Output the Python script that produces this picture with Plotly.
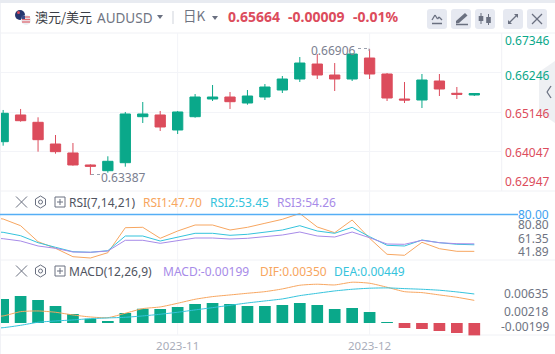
import numpy as np
import plotly.graph_objects as go

W, H = 555, 354
# ---------- data ----------
opens = [.64316,.65063,.64858,.64251,.64000,.63664,.63504,.63728,.65015,.65063,.64643,.65015,.65510,.65566,
         .65398,.65566,.65762,.66070,.66489,.66182,.66070,.66657,.66210,.65510,.65482,.66014,.65670,.65622]
highs = [.65203,.65231,.64998,.64503,.64279,.63683,.63907,.65147,.65426,.65175,.65175,.65650,.65902,.65706,
         .65762,.65930,.66154,.66685,.66769,.66517,.66783,.66906,.66238,.65986,.66210,.66210,.65846,.65678]
lows = [.64204,.64875,.64036,.63980,.63644,.63387,.63448,.63616,.64839,.64615,.64531,.64987,.65454,.65231,
        .65351,.65482,.65678,.65986,.66070,.65734,.66014,.66070,.65454,.65398,.65258,.65594,.65510,.65594]
closes = [.65110,.64903,.64372,.64036,.63664,.63627,.63767,.65091,.65091,.64727,.65147,.65566,.65566,.65435,
          .65594,.65846,.66070,.66517,.66182,.66070,.66769,.66210,.65538,.65482,.66042,.65790,.65642,.65664]
rsi1 = [78.0,75.98,70.13,56.15,50.37,43.03,41.89,46.52,68.38,68.73,59.11,65.49,70.74,70.74,66.37,68.73,72.23,
        75.72,80.80,69.00,64.01,75.12,59.11,45.12,44.25,55.62,50.02,47.75,47.70]
rsi2 = [65.2,64.35,61.39,55.27,51.24,47.40,46.87,48.27,61.12,61.12,56.75,60.25,63.48,63.48,61.74,62.61,64.62,
        66.37,70.13,65.49,63.48,68.73,60.50,52.99,52.39,57.62,55.27,53.86,53.45]
rsi3 = [59.5,58.76,56.75,52.39,50.37,47.13,46.87,48.01,57.37,57.37,54.74,57.02,59.38,59.38,58.50,59.11,60.50,
        61.99,64.62,61.12,60.25,64.62,59.63,54.13,53.86,57.37,55.27,54.40,54.26]
macd = [.00372,.00419,.00357,.00264,.00140,.00067,.00016,.00155,.00222,.00217,.00248,.00295,.00310,.00295,
        .00264,.00264,.00279,.00310,.00279,.00217,.00233,.00171,.00011,-.00078,-.00093,-.00124,-.00155,-.00199]
dif = [.00093,.00109,.00175,.00186,.00166,.00124,.00093,.00082,.00150,.00222,.00248,.00305,.00367,.00408,.00434,
       .00460,.00485,.00527,.00584,.00600,.00589,.00631,.00615,.00553,.00485,.00470,.00434,.00398,.00350]
dea = [-.00088,-.00073,-.00036,.00011,.00031,.00047,.00067,.00078,.00088,.00109,.00135,.00166,.00202,.00237,.00274,
       .00310,.00341,.00372,.00423,.00460,.00496,.00522,.00538,.00543,.00532,.00522,.00507,.00481,.00449]
price_ticks = [0.67346, 0.66246, 0.65146, 0.64047, 0.62947]
rsi_labels = ["80.80", "61.35", "41.89"]
macd_labels = ["0.00635", "0.00218", "-0.00199"]
month_pos = [10, 21]
month_labels = ["2023-11", "2023-12"]

GREEN, RED = "#0aa88a", "#dc4c5c"
ORANGE, CYAN, PURPLE = "#f7a660", "#35c3dc", "#a78be8"
GRID, GRAYT, DARK, ICON = "#f3f4f8", "#6f7482", "#50545f", "#6a7080"
FONT = "Noto Sans, Noto Sans CJK SC, sans-serif"

px = lambda x: x / W
py = lambda y: 1 - y / H
bars = np.arange(len(opens))
lines_x = np.arange(-1, len(opens))

fig = go.Figure()
fig.add_trace(go.Candlestick(x=bars, open=opens, high=highs, low=lows, close=closes, whiskerwidth=0,
    increasing=dict(line=dict(color=GREEN, width=1), fillcolor=GREEN),
    decreasing=dict(line=dict(color=RED, width=1), fillcolor=RED), yaxis="y", hoverinfo="skip"))
for s, c in ((rsi1, ORANGE), (rsi2, CYAN), (rsi3, PURPLE)):
    fig.add_trace(go.Scatter(x=lines_x, y=s, mode="lines", line=dict(color=c, width=1), yaxis="y2"))
fig.add_trace(go.Bar(x=bars, y=macd, marker=dict(color=[GREEN if v >= 0 else RED for v in macd], line_width=0), yaxis="y3"))
for s, c in ((dif, ORANGE), (dea, CYAN)):
    fig.add_trace(go.Scatter(x=lines_x, y=s, mode="lines", line=dict(color=c, width=1, shape="spline", smoothing=0.6), yaxis="y3"))

shapes, ann = [], []

def rect(x0, y0, x1, y1, fill, **k):
    shapes.append(dict(type="rect", xref="paper", yref="paper", x0=px(x0), x1=px(x1), y0=py(y0), y1=py(y1),
                       fillcolor=fill, line_width=0, layer=k.get("layer", "below")))

def seg(x0, y0, x1, y1, color, w=1, dash=None, layer="above"):
    shapes.append(dict(type="line", xref="paper", yref="paper", x0=px(x0), x1=px(x1), y0=py(y0), y1=py(y1),
                       line=dict(color=color, width=w, dash=dash or "solid"), layer=layer))

def poly(pts, fill=None, color=None, w=1, opacity=1, layer="above"):
    d = "M " + " L ".join(f"{px(a):.5f} {py(b):.5f}" for a, b in pts) + " Z"
    shapes.append(dict(type="path", xref="paper", yref="paper", path=d, fillcolor=fill or "rgba(0,0,0,0)",
                       line=dict(color=color or "rgba(0,0,0,0)", width=w), opacity=opacity, layer=layer))

def circ(x0, y0, x1, y1, fill, color=None, w=0):
    shapes.append(dict(type="circle", xref="paper", yref="paper", x0=px(x0), x1=px(x1), y0=py(y0), y1=py(y1),
                       fillcolor=fill, line=dict(color=color or fill, width=w), layer="above"))

def text(x, y, s, color, size=12, anchor="left", bold=False, font=FONT):
    ann.append(dict(xref="paper", yref="paper", x=px(x), y=py(y), text=f"<b>{s}</b>" if bold else s, showarrow=False,
                    xanchor=anchor, yanchor="middle", font=dict(family=font, size=size, color=color), borderpad=0, borderwidth=0))

# frame
rect(0, 0, W, 3, "#e8ebf1")
rect(0, 3, 1, H, "#f1f2f6")
for y in (33, 191, 260, 335):
    seg(0, y, W, y, "#f0f1f5", layer="below")
seg(501.7, 33, 501.7, 191, "#f0f1f5", layer="below")
# month grid lines
for m in month_pos:
    shapes.append(dict(type="line", xref="x", yref="paper", x0=m, x1=m, y0=py(335), y1=py(33),
                       line=dict(color=GRID, width=1), layer="below"))
# RSI 80 line
shapes.append(dict(type="line", xref="paper", yref="y2", x0=0, x1=px(518), y0=80, y1=80,
                   line=dict(color="#55aef5", width=1.5), layer="above"))

# flag icon
circ(15, 10, 25, 20, "#27376f")
circ(17, 11, 20, 14, "#d8485a")
circ(21, 15, 31, 25, "#eceef2")
for y in (17, 19.5, 22):
    seg(22, y, 30, y, "#e06a72", 1.3)
rect(21.5, 15.5, 25, 19, "#3b4a86", layer="above")

# header text
text(35, 16, "澳元/美元", "#3a3d45", 13, font="Noto Sans CJK SC")
text(97, 17.5, "AUDUSD", GRAYT, 13.5)
poly([(157, 15), (163, 15), (160, 19)], fill=ICON)
seg(173, 11, 173, 24, "#cfd3db")
text(183, 15.5, "日K", GRAYT, 13.5, font="Noto Sans CJK SC")
poly([(212, 16), (218, 16), (215, 20)], fill=ICON)
text(228, 16, "0.65664", RED, 14, bold=True)
text(288, 16, "-0.00009", RED, 14, bold=True)
text(353, 16, "-0.01%", RED, 14, bold=True)

# buttons
for x0 in (427, 451, 475, 503, 527):
    x1 = x0 + 20; r = 3
    d = (f"M {px(x0+r):.5f} {py(9):.5f} L {px(x1-r):.5f} {py(9):.5f} Q {px(x1):.5f} {py(9):.5f} {px(x1):.5f} {py(9+r):.5f} "
         f"L {px(x1):.5f} {py(29-r):.5f} Q {px(x1):.5f} {py(29):.5f} {px(x1-r):.5f} {py(29):.5f} "
         f"L {px(x0+r):.5f} {py(29):.5f} Q {px(x0):.5f} {py(29):.5f} {px(x0):.5f} {py(29-r):.5f} "
         f"L {px(x0):.5f} {py(9+r):.5f} Q {px(x0):.5f} {py(9):.5f} {px(x0+r):.5f} {py(9):.5f} Z")
    shapes.append(dict(type="path", xref="paper", yref="paper", path=d, fillcolor="#e6e9f1", line_width=0, layer="below"))
# icon 1: indicator
seg(432, 23.5, 442, 23.5, ICON, 1.5)
for a, b in (((432, 20), (435, 15)), ((435, 15), (437.5, 19)), ((437.5, 19), (439, 17)), ((439, 17), (442, 20))):
    seg(*a, *b, ICON, 1.3)
# icon 2: pencil
poly([(456, 21), (465, 13), (467.5, 15.5), (459, 23), (456, 23.5)], fill=ICON)
seg(456, 24.5, 468, 24.5, ICON, 1.5)
# icon 3: candles
for x, a, b, c, d2 in ((481, 13, 16, 21, 24), (488.5, 14, 17, 23, 25)):
    seg(x, a, x, d2, ICON, 1)
    rect(x - 2.3, b, x + 2.3, c, ICON, layer="above")
# icon 4: expand
seg(509, 23, 517, 15, ICON, 1.2)
poly([(514, 14), (518, 14), (518, 18)], fill=ICON)
poly([(508, 20), (508, 24), (512, 24)], fill=ICON)
# icon 5: close
seg(532, 14, 542, 24, ICON, 1.2)
seg(542, 14, 532, 24, ICON, 1.2)

# right handle
poly([(555, 61), (539, 72), (539, 112), (555, 123)], fill="#e9ebf0", opacity=0.75)
seg(551, 86, 547, 92, ICON, 1.3)
seg(547, 92, 551, 98, ICON, 1.3)

# price labels
for v, y, c in zip(price_ticks, (41, 75, 113.5, 153, 181), (GREEN, GREEN, RED, RED, RED)):
    text(505, y, f"{v:.5f}", c, 12)
# price markers
text(311, 50.5, "0.66906", "#7b8090", 12)
seg(358, 48.5, 369, 48.5, "#9aa0ad", 1, "dot")
seg(369, 48.5, 369, 51, "#9aa0ad", 1, "dot")
text(101, 177.5, "0.63387", "#7b8090", 12)
seg(91, 174.5, 100, 174.5, "#9aa0ad", 1, "dot")

# pane headers
def pane_icons(y):
    seg(16, y - 5.5, 27, y + 5.5, ICON, 1)
    seg(27, y - 5.5, 16, y + 5.5, ICON, 1)
    poly([(40.5, y - 6), (45.5, y - 3), (45.5, y + 3), (40.5, y + 6), (35.5, y + 3), (35.5, y - 3)], color=ICON, w=1)
    circ(38.5, y - 2, 42.5, y + 2, "rgba(0,0,0,0)", ICON, 1)
    shapes.append(dict(type="rect", xref="paper", yref="paper", x0=px(55), x1=px(65), y0=py(y - 5), y1=py(y + 5),
                       fillcolor="rgba(0,0,0,0)", line=dict(color=ICON, width=1), layer="above"))
    seg(57, y, 63, y, ICON, 1)
    seg(60, y - 3, 60, y + 3, ICON, 1)

pane_icons(202)
text(69, 202.5, "RSI(7,14,21)", DARK, 12)
text(143, 202.5, "RSI1:47.70", ORANGE, 12)
text(210, 202.5, "RSI2:53.45", CYAN, 12)
text(277, 202.5, "RSI3:54.26", PURPLE, 12)
pane_icons(271)
text(69, 271.5, "MACD(12,26,9)", DARK, 12)
text(163, 271.5, "MACD:-0.00199", PURPLE, 12)
text(260, 271.5, "DIF:0.00350", ORANGE, 12)
text(334, 271.5, "DEA:0.00449", CYAN, 12)

# indicator axis labels
text(549, 214.5, "80.00", "#3f9ff0", 12, "right")
for s, y in zip(rsi_labels, (224.5, 238.5, 251.5)):
    text(549, y, s, GRAYT, 12, "right")
for s, y in zip(macd_labels, (293.5, 311, 326.5)):
    text(549, y, s, GRAYT, 12, "right")

sx = 17.45
x0i = 3.15
fig.update_layout(
    width=W, height=H, margin=dict(l=0, r=0, t=0, b=0), autosize=False,
    paper_bgcolor="white", plot_bgcolor="rgba(0,0,0,0)", showlegend=False, boxgap=0.41, boxgroupgap=0, bargap=0.33,
    hovermode=False, shapes=shapes, annotations=ann,
    xaxis=dict(domain=[px(1), px(501.7)], range=[(1 - x0i) / sx, (501.7 - x0i) / sx], anchor="y3", rangeslider=dict(visible=False),
               tickmode="array", tickvals=month_pos, ticktext=month_labels, showgrid=False, zeroline=False, showline=False,
               ticks="", ticklabelstandoff=2, tickfont=dict(family=FONT, size=11.5, color="#a9adba")),
    yaxis=dict(domain=[py(190.6), py(33.4)], range=[price_ticks[-1], price_ticks[0]], tickmode="array", tickvals=price_ticks,
               showticklabels=False, showgrid=True, gridcolor=GRID, gridwidth=1, zeroline=False, anchor="x"),
    yaxis2=dict(domain=[py(260), py(191)], range=[40.14, 100.47], showticklabels=False, showgrid=False, zeroline=False, anchor="x"),
    yaxis3=dict(domain=[py(335.5), py(260)], range=[-0.00194, 0.00975], showticklabels=False, showgrid=False, zeroline=False, anchor="x"),
)
fig.write_html("out.html", config=dict(displayModeBar=False),
               post_script="document.body.style.margin='0';document.documentElement.style.overflow='hidden';")
